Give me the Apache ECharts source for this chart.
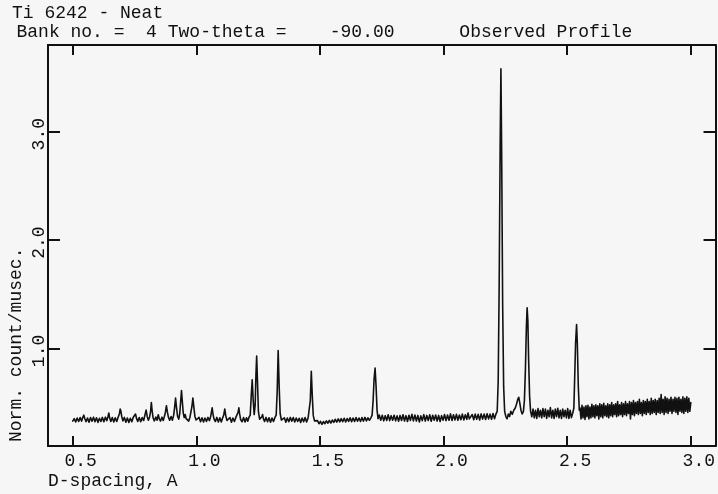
<!DOCTYPE html>
<html>
<head>
<meta charset="utf-8">
<script src="https://cdn.jsdelivr.net/npm/echarts@6/dist/echarts.min.js"></script>
<style>
  html, body { margin: 0; padding: 0; background: #f6f6f6; }
  #chart { width: 718px; height: 494px; }
</style>
</head>
<body>
<div id="chart"></div>
<script>
// observed profile: [d-spacing, norm. count/musec]
var profileLowD = [
  [0.500,0.330],[0.506,0.352],[0.512,0.322],[0.518,0.358],[0.524,0.326],[0.530,0.362],[0.536,0.330],[0.541,0.365],
  [0.545,0.385],[0.549,0.352],[0.554,0.325],[0.560,0.358],[0.566,0.320],[0.572,0.362],[0.578,0.328],[0.584,0.366],
  [0.590,0.324],[0.596,0.360],[0.602,0.318],[0.608,0.356],[0.614,0.326],[0.620,0.364],[0.626,0.324],[0.632,0.366],
  [0.638,0.334],[0.643,0.375],[0.646,0.405],[0.649,0.362],[0.654,0.326],[0.660,0.362],[0.666,0.322],[0.672,0.360],
  [0.678,0.326],[0.684,0.368],[0.689,0.398],[0.692,0.442],[0.695,0.420],[0.698,0.375],[0.703,0.332],[0.709,0.364],
  [0.715,0.320],[0.721,0.358],[0.727,0.318],[0.733,0.356],[0.739,0.324],[0.745,0.366],[0.750,0.372],[0.754,0.395],
  [0.758,0.355],[0.763,0.326],[0.769,0.362],[0.775,0.324],[0.781,0.362],[0.787,0.335],[0.792,0.385],[0.797,0.432],
  [0.801,0.375],[0.806,0.338],[0.811,0.368],[0.815,0.420],[0.818,0.502],[0.821,0.430],[0.825,0.360],[0.830,0.332],
  [0.836,0.368],[0.841,0.338],[0.846,0.388],[0.850,0.352],[0.855,0.330],[0.861,0.366],[0.866,0.336],[0.871,0.375],
  [0.875,0.412],[0.879,0.472],[0.883,0.412],[0.887,0.366],[0.892,0.338],[0.898,0.372],[0.903,0.338],[0.908,0.380],
  [0.912,0.452],[0.916,0.542],[0.920,0.450],[0.924,0.375],[0.929,0.348],[0.933,0.402],[0.937,0.522],[0.940,0.612],
  [0.943,0.520],[0.947,0.405],[0.951,0.362],[0.955,0.390],[0.959,0.352],[0.964,0.366],[0.969,0.330],[0.974,0.364],
  [0.978,0.382],[0.982,0.462],[0.986,0.542],[0.990,0.458],[0.994,0.375],[0.999,0.340],[1.005,0.326],[1.011,0.364],
  [1.017,0.324],[1.023,0.360],[1.029,0.322],[1.035,0.358],[1.041,0.326],[1.047,0.364],[1.053,0.334],[1.058,0.372],
  [1.061,0.412],[1.064,0.452],[1.067,0.402],[1.071,0.352],[1.077,0.326],[1.083,0.364],[1.089,0.322],[1.095,0.360],
  [1.101,0.322],[1.107,0.362],[1.111,0.388],[1.115,0.442],[1.119,0.378],[1.124,0.335],[1.130,0.324],[1.136,0.362],
  [1.142,0.320],[1.148,0.358],[1.154,0.326],[1.160,0.364],[1.165,0.362],[1.169,0.412],[1.172,0.452],[1.175,0.398],
  [1.179,0.345],[1.185,0.324],[1.191,0.362],[1.197,0.322]
];
var profileMidD = [
  [1.203,0.360],[1.208,0.328],[1.213,0.366],[1.218,0.385],[1.222,0.560],[1.226,0.710],[1.230,0.520],[1.234,0.390],
  [1.238,0.480],[1.241,0.750],[1.244,0.930],[1.247,0.720],[1.251,0.420],[1.256,0.348],[1.261,0.330],[1.265,0.370],
  [1.268,0.390],[1.271,0.352],[1.276,0.326],[1.282,0.364],[1.288,0.324],[1.294,0.360],[1.300,0.320],[1.306,0.358],
  [1.312,0.326],[1.318,0.364],[1.323,0.385],[1.327,0.600],[1.331,0.980],[1.335,0.650],[1.339,0.400],[1.344,0.340],
  [1.350,0.326],[1.356,0.360],[1.362,0.320],[1.368,0.358],[1.374,0.324],[1.380,0.364],[1.386,0.328],[1.392,0.362],
  [1.398,0.322],[1.404,0.358],[1.410,0.326],[1.416,0.356],[1.422,0.318],[1.428,0.358],[1.434,0.324],[1.440,0.362],
  [1.446,0.322],[1.452,0.358],[1.457,0.372],[1.461,0.520],[1.465,0.790],[1.469,0.560],[1.473,0.380],[1.478,0.332],
  [1.484,0.318],[1.490,0.334],[1.496,0.305],[1.502,0.328],[1.508,0.300],[1.514,0.326],[1.520,0.306],[1.526,0.332],
  [1.532,0.310],[1.538,0.336],[1.544,0.312],[1.550,0.340],[1.556,0.318],[1.562,0.346],[1.568,0.320],[1.574,0.350],
  [1.580,0.322],[1.586,0.352],[1.592,0.324],[1.598,0.356],[1.604,0.322],[1.610,0.354],[1.616,0.326],[1.622,0.360],
  [1.628,0.324],[1.634,0.358],[1.640,0.326],[1.646,0.362],[1.652,0.328],[1.658,0.358],[1.664,0.326],[1.670,0.362],
  [1.676,0.330],[1.682,0.364],[1.688,0.332],[1.694,0.360],[1.700,0.338],[1.706,0.360],[1.711,0.385],[1.715,0.520],
  [1.719,0.720],[1.723,0.820],[1.727,0.650],[1.731,0.430],[1.735,0.352],[1.740,0.385],[1.746,0.338],[1.752,0.384],
  [1.758,0.332],[1.764,0.380],[1.770,0.336],[1.776,0.388],[1.782,0.334],[1.788,0.380],[1.794,0.338],[1.800,0.384],
  [1.806,0.332],[1.812,0.378],[1.818,0.328],[1.824,0.382],[1.830,0.336],[1.836,0.388],[1.842,0.330],[1.848,0.380],
  [1.854,0.326],[1.860,0.384],[1.866,0.336],[1.872,0.392],[1.878,0.332],[1.884,0.386],[1.890,0.330],[1.896,0.382],
  [1.902,0.322],[1.908,0.378],[1.914,0.334],[1.920,0.390],[1.926,0.330],[1.932,0.382],[1.938,0.336],[1.944,0.388],
  [1.950,0.328],[1.956,0.384],[1.962,0.338],[1.968,0.386],[1.974,0.330],[1.980,0.382],[1.986,0.326],[1.992,0.380],
  [1.998,0.338],[2.004,0.390],[2.010,0.334],[2.016,0.386],[2.022,0.338],[2.028,0.396],[2.034,0.336],[2.040,0.388],
  [2.046,0.340],[2.052,0.392],[2.058,0.338],[2.064,0.386],[2.070,0.342],[2.076,0.394],[2.082,0.340],[2.088,0.388],
  [2.094,0.346],[2.099,0.405],[2.104,0.350],[2.110,0.338],[2.116,0.390],[2.122,0.342],[2.128,0.394],[2.134,0.346],
  [2.140,0.392],[2.146,0.340],[2.152,0.396],[2.158,0.348],[2.164,0.394],[2.170,0.344],[2.176,0.398],[2.182,0.350],
  [2.188,0.394],[2.194,0.346],[2.200,0.400],[2.206,0.352],[2.212,0.396]
];
var profileHighD = [
  [2.217,0.420],[2.221,0.700],[2.225,1.600],[2.229,2.900],[2.232,3.580],[2.235,2.800],[2.239,1.400],[2.243,0.650],
  [2.247,0.420],[2.252,0.372],[2.257,0.350],[2.262,0.395],[2.267,0.372],[2.272,0.420],[2.278,0.392],[2.284,0.430],
  [2.290,0.450],[2.295,0.485],[2.300,0.530],[2.304,0.550],[2.308,0.500],[2.313,0.430],[2.318,0.395],[2.323,0.420],
  [2.327,0.520],[2.331,0.800],[2.335,1.200],[2.338,1.375],[2.341,1.250],[2.344,0.900],[2.348,0.560],[2.352,0.420],
  [2.357,0.370],[2.362,0.440],[2.367,0.360],[2.372,0.430],[2.377,0.355],[2.382,0.445],[2.387,0.370],[2.392,0.430],
  [2.397,0.360],[2.402,0.445],[2.407,0.370],[2.412,0.440],[2.417,0.355],[2.422,0.430],[2.427,0.370],[2.432,0.455],
  [2.437,0.360],[2.442,0.430],[2.447,0.355],[2.452,0.440],[2.457,0.370],[2.462,0.448],[2.467,0.360],[2.472,0.430],
  [2.477,0.355],[2.482,0.440],[2.487,0.370],[2.492,0.430],[2.497,0.360],[2.502,0.445],[2.507,0.355],[2.512,0.430],
  [2.517,0.362],[2.522,0.400],[2.527,0.450],[2.530,0.700],[2.534,1.050],[2.538,1.220],[2.541,1.050],[2.545,0.650],
  [2.549,0.430],[2.552,0.450],[2.556,0.350],[2.560,0.475],[2.564,0.360],[2.568,0.460],[2.572,0.345],[2.576,0.470],
  [2.580,0.370],[2.584,0.475],[2.588,0.350],[2.592,0.460],[2.596,0.360],[2.600,0.485],[2.604,0.370],[2.608,0.470],
  [2.612,0.360],[2.616,0.480],[2.620,0.380],[2.624,0.470],[2.628,0.350],[2.632,0.490],[2.636,0.370],[2.640,0.480],
  [2.644,0.360],[2.648,0.495],[2.652,0.380],[2.656,0.470],[2.660,0.370],[2.664,0.490],[2.668,0.360],[2.672,0.480],
  [2.676,0.380],[2.680,0.500],[2.684,0.370],[2.688,0.480],[2.692,0.390],[2.696,0.490],[2.700,0.370],[2.704,0.510],
  [2.708,0.380],[2.712,0.480],[2.716,0.390],[2.720,0.500],[2.724,0.370],[2.728,0.490],[2.732,0.390],[2.736,0.510],
  [2.740,0.380],[2.744,0.490],[2.748,0.400],[2.752,0.510],[2.756,0.350],[2.760,0.500],[2.764,0.390],[2.768,0.520],
  [2.772,0.380],[2.776,0.500],[2.780,0.400],[2.784,0.510],[2.788,0.390],[2.792,0.530],[2.796,0.400],[2.800,0.500],
  [2.804,0.380],[2.808,0.520],[2.812,0.400],[2.816,0.510],[2.820,0.390],[2.824,0.530],[2.828,0.410],[2.832,0.510],
  [2.836,0.390],[2.840,0.540],[2.844,0.400],[2.848,0.520],[2.852,0.410],[2.856,0.530],[2.860,0.390],[2.864,0.520],
  [2.868,0.410],[2.872,0.540],[2.876,0.400],[2.880,0.575],[2.884,0.410],[2.888,0.530],[2.892,0.390],[2.896,0.555],
  [2.900,0.410],[2.904,0.540],[2.908,0.400],[2.912,0.530],[2.916,0.420],[2.920,0.550],[2.924,0.400],[2.928,0.530],
  [2.932,0.420],[2.936,0.550],[2.940,0.410],[2.944,0.540],[2.948,0.390],[2.952,0.550],[2.956,0.420],[2.960,0.530],
  [2.964,0.410],[2.968,0.555],[2.972,0.400],[2.976,0.540],[2.980,0.420],[2.984,0.555],[2.988,0.410],[2.992,0.540],
  [2.996,0.420],[3.000,0.500]
];

var xTickValues = [0.5, 1.0, 1.5, 2.0, 2.5, 3.0];
var yTickValues = [1.0, 2.0, 3.0];

var titleLine1 = 'Ti 6242 - Neat';
var titleLine2 = 'Bank no. =  4 Two-theta =    -90.00      Observed Profile';
var xName = 'D-spacing, A';
var yName = 'Norm. count/musec.';

var ink = '#111';
var mono = 'Liberation Mono';

var chart = echarts.init(document.getElementById('chart'), null, { renderer: 'canvas' });

function xAxisCfg(pos, showLabels) {
  return {
    type: 'value',
    position: pos,
    min: 0.4,
    max: 3.1,
    axisLine: { show: true, lineStyle: { color: ink, width: 2 } },
    axisTick: { show: true, inside: true, length: 10, customValues: xTickValues, lineStyle: { color: ink, width: 2 } },
    axisLabel: {
      show: showLabels,
      customValues: xTickValues,
      margin: 6,
      padding: [0, 0, 0, 16],
      color: ink,
      fontFamily: mono,
      fontSize: 18,
      formatter: function (v) { return v.toFixed(1); }
    },
    splitLine: { show: false }
  };
}

function yAxisCfg(pos, showLabels) {
  return {
    type: 'value',
    position: pos,
    min: 0.1,
    max: 3.8,
    axisLine: { show: true, lineStyle: { color: ink, width: 2 } },
    axisTick: { show: true, inside: true, length: 12, customValues: yTickValues, lineStyle: { color: ink, width: 2 } },
    axisLabel: {
      show: showLabels,
      customValues: yTickValues,
      rotate: 90,
      margin: 0,
      padding: [0, 5, 0, 0],
      color: ink,
      fontFamily: mono,
      fontSize: 18,
      formatter: function (v) { return v.toFixed(1); }
    },
    splitLine: { show: false }
  };
}

var option = {
  backgroundColor: '#f6f6f6',
  animation: false,
  grid: { left: 48, right: 2, top: 45, bottom: 48 },
  xAxis: [xAxisCfg('bottom', true), xAxisCfg('top', false)],
  yAxis: [yAxisCfg('left', true), yAxisCfg('right', false)],
  graphic: [
    { type: 'text', x: 12, y: 13,
      style: { text: titleLine1, font: '18px "Liberation Mono"', fill: ink, textAlign: 'left', textVerticalAlign: 'middle' } },
    { type: 'text', x: 16.5, y: 32,
      style: { text: titleLine2, font: '18px "Liberation Mono"', fill: ink, textAlign: 'left', textVerticalAlign: 'middle' } },
    { type: 'text', x: 48, y: 481,
      style: { text: xName, font: '18px "Liberation Mono"', fill: ink, textAlign: 'left', textVerticalAlign: 'middle' } },
    { type: 'text', x: 16.5, y: 442, rotation: Math.PI / 2,
      style: { text: yName, font: '18px "Liberation Mono"', fill: ink, textAlign: 'left', textVerticalAlign: 'middle' } }
  ],
  series: [
    {
      name: 'Observed Profile',
      type: 'line',
      xAxisIndex: 0,
      yAxisIndex: 0,
      showSymbol: false,
      lineStyle: { color: ink, width: 1.6, join: 'round', cap: 'round' },
      data: profileLowD.concat(profileMidD, profileHighD)
    }
  ]
};

chart.setOption(option);
</script>
</body>
</html>
